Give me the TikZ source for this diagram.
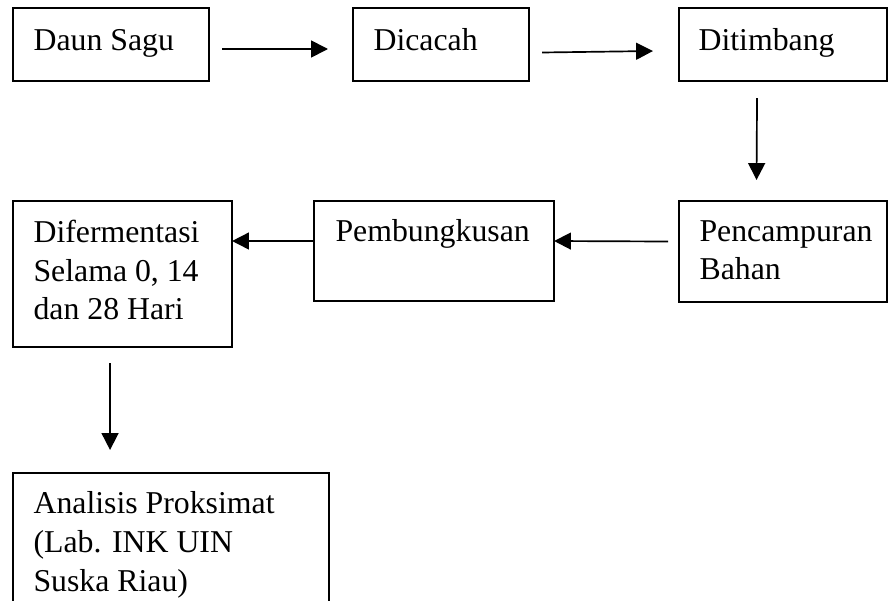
\documentclass[tikz,border=0pt]{standalone}
\usepackage{fontspec}
\setmainfont{Liberation Serif}
\usetikzlibrary{arrows.meta,calc}

\begin{document}
\begin{tikzpicture}[
    x=0.0125cm, y=-0.0125cm,
    box/.style={draw=black, line width=0.6pt, rectangle, anchor=north west, inner sep=0pt, outer sep=0pt},
    txt/.style={anchor=base west, align=left, inner sep=0pt, font=\fontsize{11.3}{13.8}\selectfont},
    flow/.style={draw=black, line width=0.6pt, -{Triangle[length=6pt,width=6pt]}}
]

\useasboundingbox (0,0) rectangle (889,601);
\clip (0,0) rectangle (889,601);

% top row
\node[box, minimum width=2.45cm, minimum height=0.9125cm] (sagu) at (13,8) {};
\node[box, minimum width=2.2cm, minimum height=0.9125cm] (cacah) at (353,8) {};
\node[box, minimum width=2.6cm, minimum height=0.9125cm] (timbang) at (679,8) {};

% middle row
\node[box, minimum width=2.6cm, minimum height=1.2625cm] (campur) at (679,201) {};
\node[box, minimum width=3.0cm, minimum height=1.25cm] (bungkus) at (314,201) {};
\node[box, minimum width=2.7375cm, minimum height=1.825cm] (ferm) at (13,201) {};

% bottom box runs off the page
\node[box, minimum width=3.95cm, minimum height=2cm] (analisis) at (13,473) {};

% base of a text node is its last line
\node[txt] (tsagu) at ($(sagu.north west)+(20,43)$) {Daun Sagu};
\node[txt] (tcacah) at ($(cacah.north west)+(20,43)$) {Dicacah};
\node[txt] (ttimbang) at ($(timbang.north west)+(19,43)$) {Ditimbang};
\node[txt] (tcampur) at ($(campur.north west)+(20,79)$) {Pencampuran\\Bahan};
\node[txt] (tbungkus) at ($(bungkus.north west)+(21,41)$) {Pembungkusan};
\node[txt] (tferm) at ($(ferm.north west)+(20,119)$) {Difermentasi\\Selama 0, 14\\dan 28 Hari};
\node[txt] (tanalisis) at ($(analisis.north west)+(20,118)$) {Analisis Proksimat\\(Lab. INK UIN\\Suska Riau)};

\draw[flow] ($(sagu.east)+(13,4.5)$) -- ($(cacah.west)+(-25,4.5)$);
\draw[flow] ($(cacah.east)+(13,8)$) -- ($(timbang.west)+(-26,6.5)$);
\draw[flow] ($(timbang.south)+(-26,17)$) -- ($(campur.north)+(-26.5,-21)$);
\draw[flow] ($(campur.west)+(-11,-10)$) -- ($(bungkus.east)+(0,-10)$);
\draw[flow] ($(bungkus.west)+(0,-10)$) -- ($(ferm.east)+(0,-33)$);
\draw[flow] ($(ferm.south)+(-12.5,16)$) -- ($(analisis.north)+(-61,-23)$);

\end{tikzpicture}
\end{document}
